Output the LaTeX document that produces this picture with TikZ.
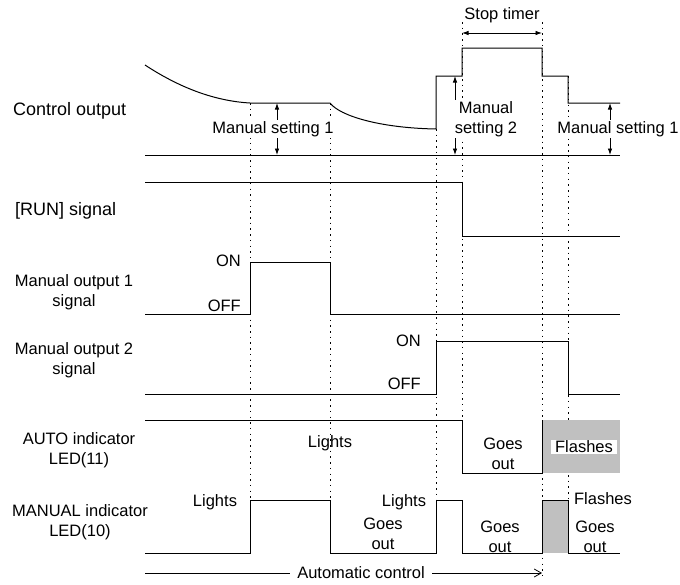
\documentclass[tikz,border=0pt]{standalone}
\usepackage{fontspec}
\setmainfont{Liberation Sans}
\usepackage{xcolor}
\usepackage{tikz}
\usetikzlibrary{arrows.meta,positioning}
\definecolor{FlashGray}{HTML}{C0C0C0}

\begin{document}
\begin{tikzpicture}[x=1pt,y=-1pt,
  lbl/.style={font=\fontsize{16.5}{20}\selectfont,align=center,inner sep=1pt},
  biglbl/.style={lbl,font=\fontsize{18}{21}\selectfont,anchor=west},
  mask/.style={lbl,fill=white},
  sig/.style={line width=1pt},
  guide/.style={line width=1pt,dash pattern=on 1.5pt off 4.2pt},
  dim/.style={{Latex[length=6.5pt,width=4.5pt]}-{Latex[length=6.5pt,width=4.5pt]},line width=0.8pt},
  run/.style={-{Straight Barb[length=7pt,width=8pt]},line width=0.8pt}
]
\useasboundingbox (0,0) rectangle (680,584);
\foreach \x/\a/\b in {250/103/500,330/103/500,436/129/500,462/22/420,542/22/578,568/76/500}
  \draw[guide] (\x,\a) -- (\x,\b);
\fill[FlashGray] (542,420) rectangle (620,473);
\fill[FlashGray] (542,500) rectangle (568,553);
\draw[sig] (145,65) .. controls (180,88) and (215,101) .. (250,103) -- (330,103)
  .. controls (340,116) and (380,128) .. (436,129) -- (436,76) -- (462,76) -- (462,48)
  -- (542,48) -- (542,76) -- (568,76) -- (568,103) -- (620,103);
\draw[sig] (145,155) -- (620,155);
\draw[sig] (145,182) -- (462,182) -- (462,236) -- (620,236);
\draw[sig] (145,314) -- (250,314) -- (250,262) -- (330,262) -- (330,314) -- (620,314);
\draw[sig] (145,394) -- (436,394) -- (436,341) -- (568,341) -- (568,394) -- (620,394);
\draw[sig] (145,420) -- (462,420) -- (462,473) -- (542,473) -- (542,420);
\draw[sig] (145,553) -- (250,553) -- (250,500) -- (330,500) -- (330,553) -- (436,553)
  -- (436,500) -- (462,500) -- (462,553) -- (542,553) -- (542,500) -- (568,500)
  -- (568,553) -- (620,553);
\coordinate (ms1a) at (277,103);
\coordinate (ms1b) at (277,155);
\coordinate (ms2a) at (455,76);
\coordinate (ms2b) at (455,155);
\coordinate (ms3a) at (610,103);
\coordinate (ms3b) at (610,155);
\coordinate (st0) at (462,33);
\coordinate (st1) at (542,33);
\coordinate (ac0) at (145,573);
\coordinate (ac1) at (542,573);
\draw[dim] (ms1a) -- (ms1b);
\draw[dim] (ms2a) -- (ms2b);
\draw[dim] (ms3a) -- (ms3b);
\draw[dim] (st0) -- (st1);
\draw[run] (ac0) -- (ac1);
\node[mask] (set1) at (273,129) {Manual setting 1};
\node[mask] (set2) at (486,119) {Manual\\setting 2};
\node[mask] (set3) at (618,129) {Manual setting 1};
\node[lbl] (stop) at (502,15) {Stop timer};
\node[mask,inner xsep=7pt] (auto) at (361,573) {Automatic control};
\node[biglbl] (ctrl) at (12,111) {Control output};
\node[biglbl] (runsig) at (14,211) {[RUN] signal};
\node[lbl] (out1) at (74,292) {Manual output 1\\signal};
\node[lbl] (out2) at (74,360) {Manual output 2\\signal};
\node[lbl] (autoled) at (79,450) {AUTO indicator\\LED(11)};
\node[lbl] (manled) at (80,522) {MANUAL indicator\\LED(10)};
\node[lbl,anchor=east] (on1) at (242,261) {ON};
\node[lbl,anchor=east] (off1) at (242,306) {OFF};
\node[lbl,anchor=east] (on2) at (422,341) {ON};
\node[lbl,anchor=east] (off2) at (422,384) {OFF};
\node[lbl] (alights) at (330,443) {Lights};
\node[lbl] (aout) at (503,454) {Goes\\out};
\node[mask,inner xsep=4pt] (aflash) at (584,447) {Flashes};
\node[lbl] (mlights1) at (215,502) {Lights};
\node[lbl] (mlights2) at (404,502) {Lights};
\node[lbl] (mout1) at (383,534) {Goes\\out};
\node[lbl] (mout2) at (500,537) {Goes\\out};
\node[lbl] (mflash) at (603,499) {Flashes};
\node[lbl] (mout3) at (595,537) {Goes\\out};
\end{tikzpicture}
\end{document}
